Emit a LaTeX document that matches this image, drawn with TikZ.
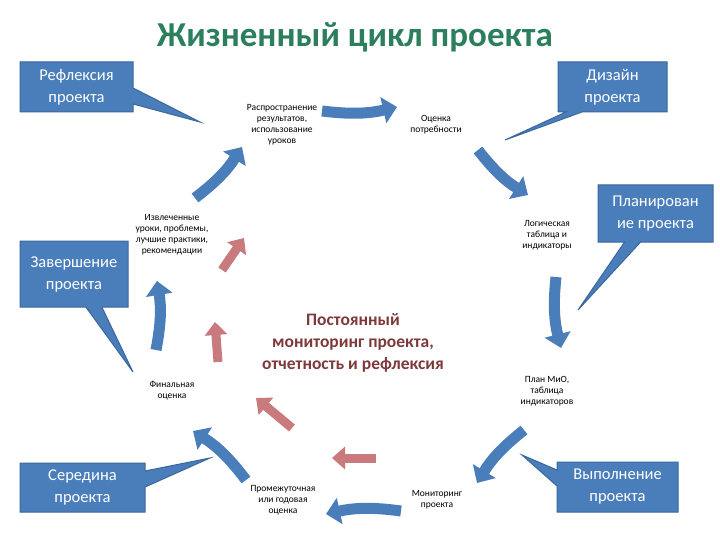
\documentclass[tikz,border=0pt]{standalone}
\usepackage{fontspec}
\setmainfont{Carlito}
\usepackage{xcolor}
\definecolor{cycle-blue}{HTML}{4A7EBB}
\definecolor{cycle-edge}{HTML}{3A679C}
\definecolor{cycle-red}{HTML}{C97A7C}
\definecolor{cycle-title}{HTML}{2B7F5C}
\definecolor{cycle-core}{HTML}{7E3A3A}
\usepackage{tikz}
\usetikzlibrary{arrows.meta,shapes.callouts}

\tikzset{
    stage/.style={font=\fontsize{9.5}{11}\selectfont, align=center, inner sep=1pt},
    phase/.style={rectangle callout, fill=cycle-blue, draw=cycle-edge, line width=1pt,
        text=white, font=\fontsize{16.5}{22}\selectfont, align=center, inner sep=0pt,
        callout pointer width=16pt},
    flow/.style={draw=cycle-blue, line width=11pt, -{Triangle[length=14pt,width=26pt]}},
    review/.style={draw=cycle-red, line width=9pt, -{Triangle[length=13pt,width=22pt]}},
}

\begin{document}
\begin{tikzpicture}[x=1pt, y=-1pt]

    % Background
    \useasboundingbox[fill=white] (0, 0) rectangle (720, 540);

    % Title
    \node[text=cycle-title, font=\fontsize{35}{40}\selectfont\bfseries] (title) at (355, 37) {Жизненный цикл проекта};

    % Stages
    \node[stage] (spread) at (282, 125) {Распространение\\результатов,\\использование\\уроков};
    \node[stage] (need) at (436, 125) {Оценка\\потребности};
    \node[stage] (logic) at (547, 235) {Логическая\\таблица и\\индикаторы};
    \node[stage] (mio) at (547, 391) {План МиО,\\таблица\\индикаторов};
    \node[stage] (monitor) at (437, 500) {Мониторинг\\проекта};
    \node[stage] (interim) at (283, 500) {Промежуточная\\или годовая\\оценка};
    \node[stage] (final) at (172, 391) {Финальная\\оценка};
    \node[stage] (lessons) at (172, 235) {Извлеченные\\уроки, проблемы,\\лучшие практики,\\рекомендации};

    % Core
    \node[text=cycle-core, align=center, font=\fontsize{17.5}{22}\selectfont\bfseries] (core) at (353, 343)
        {Постоянный\\мониторинг проекта,\\отчетность и рефлексия};

    % Cycle arrows
    \coordinate (a1) at (322, 111); \coordinate (b1) at (397, 107);
    \coordinate (a2) at (478, 150); \coordinate (b2) at (528, 195);
    \coordinate (a3) at (556, 277); \coordinate (b3) at (561, 348);
    \coordinate (a4) at (524, 430); \coordinate (b4) at (477, 483);
    \coordinate (a5) at (401, 511); \coordinate (b5) at (326, 514);
    \coordinate (a6) at (246, 480); \coordinate (b6) at (193, 431);
    \coordinate (a7) at (156, 350); \coordinate (b7) at (157, 281);
    \coordinate (a8) at (195, 198); \coordinate (b8) at (242, 147);
    \foreach \i in {1,...,8}
        \draw[flow] (a\i) to[bend right=10] (b\i);

    % Reflection arrows
    \coordinate (r1) at (222, 270); \coordinate (s1) at (244, 238);
    \coordinate (r2) at (218, 362); \coordinate (s2) at (215, 322);
    \coordinate (r3) at (292, 428); \coordinate (s3) at (256, 398);
    \coordinate (r4) at (376, 458); \coordinate (s4) at (332, 458);
    \foreach \i in {1,...,4}
        \draw[review] (r\i) -- (s\i);

    % Callouts
    \coordinate (reflTip) at (200, 122);
    \coordinate (designTip) at (505, 140);
    \coordinate (planTip) at (578, 310);
    \coordinate (finishTip) at (133, 372);
    \coordinate (middleTip) at (210, 458);
    \coordinate (execTip) at (522, 455);

    \node[phase, minimum width=113pt, minimum height=50pt, callout absolute pointer=(reflTip)] (refl) at (76.5, 87) {Рефлексия\\проекта};
    \node[phase, minimum width=109pt, minimum height=50pt, callout absolute pointer=(designTip)] (design) at (612.5, 87) {Дизайн\\проекта};
    \node[phase, minimum width=115pt, minimum height=57pt, callout absolute pointer=(planTip)] (plan) at (655.5, 213.5) {Планирован\\ие проекта};
    \node[phase, minimum width=108pt, minimum height=66pt, callout absolute pointer=(finishTip)] (finish) at (74, 274) {Завершение\\проекта};
    \node[phase, minimum width=125pt, minimum height=49pt, callout absolute pointer=(middleTip)] (middle) at (82.5, 487.5) {Середина\\проекта};
    \node[phase, minimum width=121pt, minimum height=50pt, callout absolute pointer=(execTip)] (exec) at (617.5, 487) {Выполнение\\проекта};

\end{tikzpicture}
\end{document}
